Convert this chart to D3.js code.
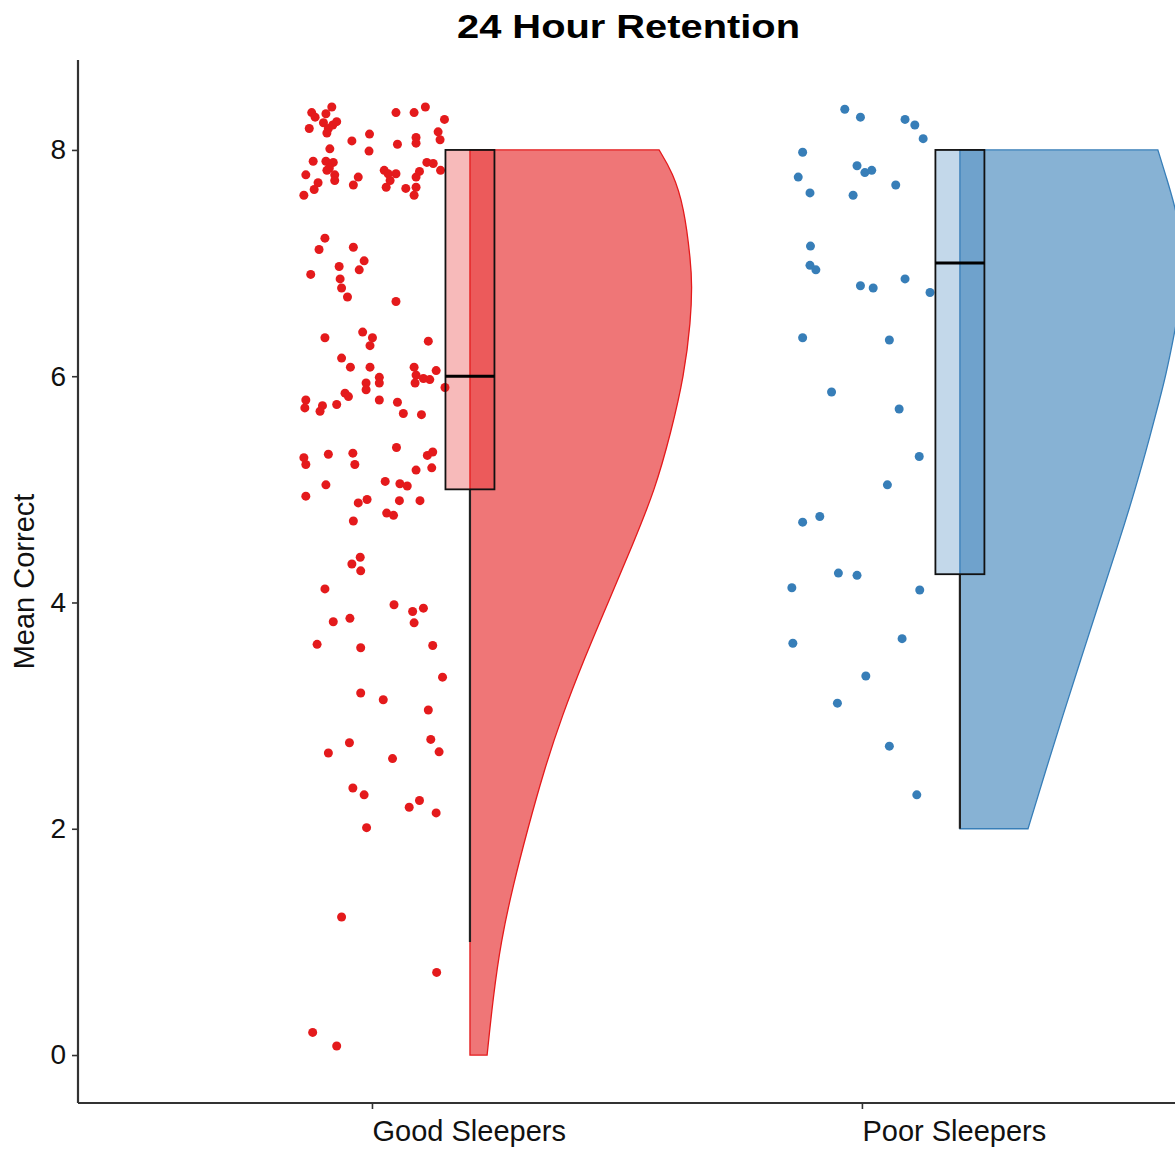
<!DOCTYPE html>
<html>
<head>
<meta charset="utf-8">
<script src="https://cdn.jsdelivr.net/npm/d3@7"></script>
<style>
  html, body { margin: 0; padding: 0; background: #fff; }
  svg { display: block; }
  text { font-family: "Liberation Sans", Arial, Helvetica, sans-serif; }
</style>
</head>
<body>
<svg id="chart" width="1175" height="1154"></svg>
<script>
// ---- data -------------------------------------------------------------
const categories = ["Good Sleepers", "Poor Sleepers"];
const colors = ["#E41A1C", "#377EB8"];
const yTicks = [0, 2, 4, 6, 8];
const title = "24 Hour Retention";
const yLabel = "Mean Correct";

// box statistics: [lower whisker, Q1, median, Q3, upper whisker]
const goodBox = [1, 5, 6, 8, 8];
const poorBox = [2, 4.25, 7, 8, 8];

// half-violin density profiles: [score, width in category units]
const goodDensity = [
  [0, 0.035], [0.5, 0.047], [1, 0.063], [1.5, 0.088], [2, 0.118], [2.5, 0.150],
  [3, 0.188], [3.5, 0.233], [4, 0.282], [4.5, 0.331], [5, 0.378], [5.5, 0.41],
  [6, 0.437], [6.5, 0.451], [6.8, 0.453], [7, 0.451], [7.5, 0.437], [7.8, 0.414], [8, 0.386]
];
const poorDensity = [
  [2, 0.139], [2.5, 0.174], [3, 0.21], [3.5, 0.247], [4, 0.284], [4.5, 0.322],
  [5, 0.358], [5.5, 0.39], [5.8, 0.408], [6, 0.42], [6.4, 0.439], [6.7, 0.451],
  [7, 0.455], [7.25, 0.451], [7.5, 0.439], [7.75, 0.422], [8, 0.404]
];

// individual participants: [horizontal jitter, mean correct]
const goodPoints = [
  [-0.123, 8.33], [-0.116, 8.29], [-0.094, 8.32], [-0.082, 8.38], [-0.099, 8.24], [-0.089, 8.19],
  [-0.092, 8.15], [-0.080, 8.22], [-0.072, 8.25], [-0.128, 8.19], [-0.086, 8.01], [-0.041, 8.08],
  [-0.005, 8.14], [-0.006, 7.99], [0.049, 8.33], [0.086, 8.33], [0.109, 8.38], [0.148, 8.27],
  [0.135, 8.16], [0.139, 8.09], [0.090, 8.11], [0.090, 8.06], [0.052, 8.05], [-0.120, 7.90],
  [-0.094, 7.90], [-0.079, 7.89], [-0.087, 7.84], [-0.076, 7.78], [-0.076, 7.73], [-0.092, 7.82],
  [-0.135, 7.78], [-0.110, 7.71], [-0.118, 7.65], [-0.139, 7.60], [-0.038, 7.69], [-0.028, 7.76],
  [0.025, 7.82], [0.033, 7.79], [0.049, 7.79], [0.037, 7.73], [0.029, 7.67], [0.069, 7.66],
  [0.090, 7.67], [0.086, 7.60], [0.097, 7.81], [0.090, 7.76], [0.112, 7.89], [0.125, 7.88],
  [0.140, 7.82], [-0.096, 7.22], [-0.108, 7.12], [-0.038, 7.14], [-0.016, 7.02], [-0.026, 6.94],
  [-0.125, 6.90], [-0.067, 6.97], [-0.065, 6.86], [-0.062, 6.78], [-0.050, 6.70], [0.049, 6.66],
  [-0.096, 6.34], [-0.019, 6.39], [0.001, 6.34], [-0.004, 6.27], [0.115, 6.31], [-0.062, 6.16],
  [-0.044, 6.08], [-0.004, 6.08], [0.086, 6.08], [0.090, 6.01], [0.105, 5.98], [0.118, 5.97],
  [0.131, 6.05], [0.088, 5.94], [-0.012, 5.94], [-0.012, 5.88], [0.015, 5.99], [0.015, 5.94],
  [0.149, 5.90], [-0.135, 5.79], [-0.101, 5.74], [-0.137, 5.72], [-0.072, 5.75], [-0.055, 5.85],
  [-0.048, 5.82], [0.015, 5.79], [0.052, 5.77], [0.064, 5.67], [0.101, 5.66], [-0.106, 5.69],
  [-0.139, 5.28], [-0.135, 5.22], [-0.089, 5.31], [-0.039, 5.32], [-0.035, 5.22], [0.050, 5.37],
  [0.113, 5.30], [0.124, 5.33], [0.122, 5.19], [0.090, 5.17], [-0.094, 5.04], [-0.135, 4.94],
  [0.027, 5.07], [0.057, 5.05], [0.072, 5.03], [-0.028, 4.88], [-0.010, 4.91], [0.056, 4.90],
  [0.098, 4.90], [0.030, 4.79], [0.044, 4.77], [-0.038, 4.72], [-0.024, 4.40], [-0.041, 4.34],
  [-0.023, 4.28], [-0.096, 4.12], [-0.079, 3.83], [-0.045, 3.86], [0.045, 3.98], [0.083, 3.92],
  [0.105, 3.95], [0.086, 3.82], [-0.112, 3.63], [-0.023, 3.60], [0.124, 3.62], [0.144, 3.34],
  [-0.023, 3.20], [0.023, 3.14], [0.115, 3.05], [-0.046, 2.76], [-0.089, 2.67], [0.042, 2.62],
  [0.120, 2.79], [0.137, 2.68], [-0.039, 2.36], [-0.016, 2.30], [0.076, 2.19], [0.097, 2.25],
  [0.131, 2.14], [-0.011, 2.01], [-0.062, 1.22], [0.132, 0.73], [-0.121, 0.20], [-0.072, 0.08]
];
const poorPoints = [
  [-0.035, 8.36], [-0.003, 8.29], [0.088, 8.27], [0.108, 8.22], [0.125, 8.10], [-0.121, 7.98],
  [-0.010, 7.86], [0.006, 7.80], [0.020, 7.82], [-0.130, 7.76], [-0.106, 7.62], [-0.018, 7.60],
  [0.069, 7.69], [-0.105, 7.15], [-0.106, 6.98], [-0.094, 6.94], [-0.003, 6.80], [0.023, 6.78],
  [0.088, 6.86], [0.139, 6.74], [-0.121, 6.34], [0.056, 6.32], [-0.062, 5.86], [0.076, 5.71],
  [0.117, 5.29], [0.052, 5.04], [-0.086, 4.76], [-0.121, 4.71], [-0.048, 4.26], [-0.010, 4.24],
  [-0.143, 4.13], [0.118, 4.11], [-0.141, 3.64], [0.082, 3.68], [0.008, 3.35], [-0.050, 3.11],
  [0.056, 2.73], [0.112, 2.30]
];

const groups = [
  { name: categories[0], color: colors[0], box: goodBox, density: goodDensity, points: goodPoints },
  { name: categories[1], color: colors[1], box: poorBox, density: poorDensity, points: poorPoints }
];

// ---- scales -----------------------------------------------------------
const svg = d3.select("#chart");
const W = 1175, H = 1154;

// category index 1, 2 on a continuous x axis so the cloud can be nudged right
const x = d3.scaleLinear().domain([0.4, 2.639]).range([78, W]);
const y = d3.scaleLinear().domain([-0.424, 8.795]).range([1103, 60]);
const unit = x(1) - x(0);
const widthScale = d3.scaleLinear().domain([0, 1]).range([0, unit]);

const cloudShift = 0.2;   // violin + box offset from the category position
const boxWidth = 0.1;

const plot = svg.append("g");

groups.forEach((g, i) => {
  const pos = i + 1;
  const cx = x(pos + cloudShift);

  // jittered raw points
  plot.append("g").selectAll("circle")
    .data(g.points)
    .join("circle")
    .attr("cx", d => x(pos + d[0]))
    .attr("cy", d => y(d[1]))
    .attr("r", 4.5)
    .attr("fill", g.color);

  // half violin
  const area = d3.area()
    .curve(d3.curveBasis)
    .y(d => y(d[0]))
    .x0(cx)
    .x1(d => cx + widthScale(d[1]));
  plot.append("path")
    .datum(g.density)
    .attr("d", area)
    .attr("fill", g.color)
    .attr("fill-opacity", 0.6)
    .attr("stroke", g.color)
    .attr("stroke-width", 1.3);

  // box plot
  const [lo, q1, med, q3, hi] = g.box;
  const bx0 = x(pos + cloudShift - boxWidth / 2);
  const bx1 = x(pos + cloudShift + boxWidth / 2);
  plot.append("line")
    .attr("x1", cx).attr("x2", cx)
    .attr("y1", y(q1)).attr("y2", y(lo))
    .attr("stroke", "#222").attr("stroke-width", 2.2);
  plot.append("line")
    .attr("x1", cx).attr("x2", cx)
    .attr("y1", y(q3)).attr("y2", y(hi))
    .attr("stroke", "#222").attr("stroke-width", 2.2);
  plot.append("rect")
    .attr("x", bx0).attr("width", bx1 - bx0)
    .attr("y", y(q3)).attr("height", y(q1) - y(q3))
    .attr("fill", g.color).attr("fill-opacity", 0.3)
    .attr("stroke", "#111").attr("stroke-width", 1.8);
  plot.append("line")
    .attr("x1", bx0).attr("x2", bx1)
    .attr("y1", y(med)).attr("y2", y(med))
    .attr("stroke", "#000").attr("stroke-width", 3);
});

// ---- axes -------------------------------------------------------------
const axisColor = "#333";

const yAxis = svg.append("g")
  .attr("transform", `translate(${x(0.4)},0)`)
  .call(d3.axisLeft(y).tickValues(yTicks).tickSize(6).tickPadding(6).tickFormat(d3.format("d")));
yAxis.select(".domain").attr("stroke", axisColor).attr("stroke-width", 2.2)
  .attr("d", `M0,${y(8.795)}V${y(-0.424)}`);
yAxis.selectAll(".tick line").attr("stroke", axisColor).attr("stroke-width", 1.6);
yAxis.selectAll(".tick text")
  .attr("font-size", 28).attr("fill", "#111")
  .attr("font-family", "Liberation Sans, Arial, sans-serif");

const xAxis = svg.append("g")
  .attr("transform", `translate(0,${y(-0.424)})`)
  .call(d3.axisBottom(x).tickValues([1, 2]).tickSize(6).tickPadding(11)
    .tickFormat(d => categories[d - 1]));
xAxis.select(".domain").attr("stroke", axisColor).attr("stroke-width", 2.2)
  .attr("d", `M${x(0.4)},0H${W}`);
xAxis.selectAll(".tick line").attr("stroke", axisColor).attr("stroke-width", 1.6);
xAxis.selectAll(".tick text")
  .attr("font-size", 29).attr("fill", "#111")
  .attr("text-anchor", "start")
  .attr("font-family", "Liberation Sans, Arial, sans-serif");

// y axis title
svg.append("text")
  .attr("transform", `translate(34,${(y(8.795) + y(-0.424)) / 2}) rotate(-90)`)
  .attr("text-anchor", "middle")
  .attr("font-size", 29)
  .attr("fill", "#111")
  .text(yLabel);

// chart title
svg.append("text")
  .attr("x", 628.5)
  .attr("y", 38)
  .attr("text-anchor", "middle")
  .attr("font-size", 33)
  .attr("font-weight", "bold")
  .attr("textLength", 343)
  .attr("lengthAdjust", "spacingAndGlyphs")
  .attr("fill", "#000")
  .text(title);
</script>
</body>
</html>
